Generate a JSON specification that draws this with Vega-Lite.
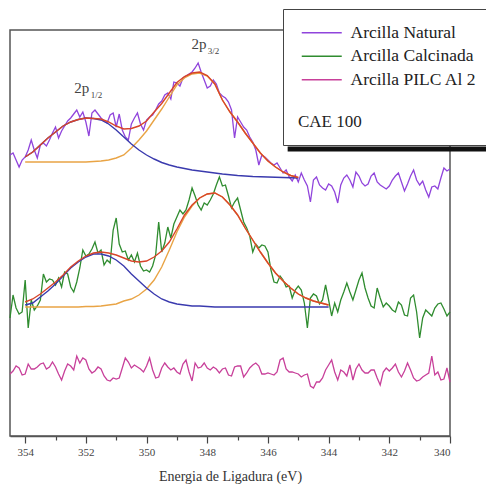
{
  "$schema": "https://vega.github.io/schema/vega-lite/v6.json",
  "width": 440,
  "height": 406,
  "padding": {"left": 10, "top": 30, "right": 36, "bottom": 48},
  "autosize": {"type": "none"},
  "background": "white",
  "config": {
    "view": {"stroke": "#555", "strokeWidth": 1.5},
    "axis": {"labelFont": "Liberation Serif", "labelFontSize": 11, "labelColor": "#444", "titleFont": "Liberation Serif", "titleFontSize": 14, "titleColor": "#333", "titleFontWeight": "normal", "domainColor": "#555", "domainWidth": 1.5, "tickColor": "#444", "tickWidth": 1.2, "grid": false}
  },
  "datasets": {
    "spec": [
      {"e":354.5,"n":281,"c":118,"p":62},{"e":354.4,"n":283,"c":141,"p":65},{"e":354.3,"n":276,"c":128,"p":70},{"e":354.2,"n":269,"c":122,"p":68},{"e":354.1,"n":276,"c":124,"p":61},
      {"e":354.0,"n":279,"c":156,"p":62},{"e":353.9,"n":286,"c":108,"p":72},{"e":353.8,"n":296,"c":136,"p":67},{"e":353.7,"n":286,"c":126,"p":67},{"e":353.6,"n":278,"c":130,"p":69},
      {"e":353.5,"n":291,"c":136,"p":72},{"e":353.4,"n":293,"c":162,"p":73},{"e":353.3,"n":290,"c":154,"p":67},{"e":353.2,"n":296,"c":157,"p":69},{"e":353.1,"n":303,"c":156,"p":74},
      {"e":353.0,"n":309,"c":151,"p":69},{"e":352.9,"n":298,"c":158,"p":62},{"e":352.8,"n":305,"c":149,"p":56},{"e":352.7,"n":310,"c":164,"p":65},{"e":352.6,"n":315,"c":162,"p":72},
      {"e":352.5,"n":318,"c":149,"p":70},{"e":352.4,"n":322,"c":144,"p":66},{"e":352.3,"n":326,"c":154,"p":80},{"e":352.2,"n":319,"c":168,"p":73},{"e":352.1,"n":324,"c":186,"p":78},
      {"e":352.0,"n":314,"c":180,"p":76},{"e":351.9,"n":300,"c":182,"p":67},{"e":351.8,"n":323,"c":187,"p":63},{"e":351.7,"n":326,"c":194,"p":65},{"e":351.6,"n":322,"c":183,"p":69},
      {"e":351.5,"n":318,"c":186,"p":67},{"e":351.4,"n":315,"c":171,"p":60},{"e":351.3,"n":313,"c":176,"p":56},{"e":351.2,"n":321,"c":173,"p":55},{"e":351.1,"n":323,"c":206,"p":58},
      {"e":351.0,"n":309,"c":218,"p":57},{"e":350.9,"n":322,"c":192,"p":58},{"e":350.8,"n":306,"c":184,"p":68},{"e":350.7,"n":299,"c":185,"p":78},{"e":350.6,"n":296,"c":176,"p":74},
      {"e":350.5,"n":312,"c":181,"p":68},{"e":350.4,"n":318,"c":174,"p":71},{"e":350.3,"n":323,"c":183,"p":69},{"e":350.2,"n":312,"c":170,"p":67},{"e":350.1,"n":306,"c":165,"p":64},
      {"e":350.0,"n":316,"c":166,"p":70},{"e":349.9,"n":319,"c":164,"p":78},{"e":349.8,"n":321,"c":170,"p":66},{"e":349.7,"n":326,"c":181,"p":58},{"e":349.6,"n":332,"c":214,"p":59},
      {"e":349.5,"n":335,"c":184,"p":68},{"e":349.4,"n":341,"c":193,"p":73},{"e":349.3,"n":343,"c":209,"p":69},{"e":349.2,"n":337,"c":198,"p":66},{"e":349.1,"n":354,"c":212,"p":68},
      {"e":349.0,"n":353,"c":219,"p":64},{"e":348.9,"n":350,"c":226,"p":62},{"e":348.8,"n":358,"c":222,"p":72},{"e":348.7,"n":360,"c":226,"p":76},{"e":348.6,"n":362,"c":236,"p":64},
      {"e":348.5,"n":364,"c":248,"p":55},{"e":348.4,"n":368,"c":240,"p":73},{"e":348.3,"n":373,"c":231,"p":68},{"e":348.2,"n":364,"c":226,"p":69},{"e":348.1,"n":356,"c":233,"p":73},
      {"e":348.0,"n":348,"c":231,"p":68},{"e":347.9,"n":350,"c":236,"p":66},{"e":347.8,"n":356,"c":242,"p":69},{"e":347.7,"n":352,"c":251,"p":67},{"e":347.6,"n":343,"c":259,"p":63},
      {"e":347.5,"n":340,"c":250,"p":67},{"e":347.4,"n":338,"c":251,"p":68},{"e":347.3,"n":334,"c":240,"p":61},{"e":347.2,"n":326,"c":228,"p":60},{"e":347.1,"n":298,"c":234,"p":69},
      {"e":347.0,"n":319,"c":238,"p":70},{"e":346.9,"n":314,"c":226,"p":70},{"e":346.8,"n":309,"c":214,"p":59},{"e":346.7,"n":306,"c":208,"p":63},{"e":346.6,"n":299,"c":200,"p":68},
      {"e":346.5,"n":294,"c":184,"p":71},{"e":346.4,"n":286,"c":192,"p":73},{"e":346.3,"n":271,"c":188,"p":70},{"e":346.2,"n":281,"c":191,"p":62},{"e":346.1,"n":279,"c":190,"p":62},
      {"e":346.0,"n":276,"c":184,"p":63},{"e":345.9,"n":273,"c":166,"p":62},{"e":345.8,"n":271,"c":154,"p":61},{"e":345.7,"n":273,"c":153,"p":64},{"e":345.6,"n":268,"c":160,"p":76},
      {"e":345.5,"n":263,"c":156,"p":78},{"e":345.4,"n":266,"c":149,"p":67},{"e":345.3,"n":259,"c":150,"p":64},{"e":345.2,"n":255,"c":138,"p":64},{"e":345.1,"n":261,"c":146,"p":63},
      {"e":345.0,"n":254,"c":150,"p":62},{"e":344.9,"n":263,"c":146,"p":59},{"e":344.8,"n":256,"c":133,"p":61},{"e":344.7,"n":250,"c":108,"p":62},{"e":344.6,"n":234,"c":138,"p":50},
      {"e":344.5,"n":256,"c":142,"p":48},{"e":344.4,"n":259,"c":140,"p":54},{"e":344.3,"n":251,"c":132,"p":54},{"e":344.2,"n":248,"c":136,"p":58},{"e":344.1,"n":246,"c":151,"p":66},
      {"e":344.0,"n":252,"c":136,"p":71},{"e":343.9,"n":250,"c":120,"p":76},{"e":343.8,"n":244,"c":133,"p":64},{"e":343.7,"n":233,"c":124,"p":56},{"e":343.6,"n":251,"c":136,"p":66},
      {"e":343.5,"n":258,"c":144,"p":64},{"e":343.4,"n":261,"c":153,"p":60},{"e":343.3,"n":256,"c":144,"p":71},{"e":343.2,"n":249,"c":136,"p":56},{"e":343.1,"n":264,"c":146,"p":67},
      {"e":343.0,"n":260,"c":156,"p":72},{"e":342.9,"n":253,"c":163,"p":66},{"e":342.8,"n":250,"c":148,"p":63},{"e":342.7,"n":252,"c":138,"p":63},{"e":342.6,"n":260,"c":130,"p":66},
      {"e":342.5,"n":263,"c":128,"p":66},{"e":342.4,"n":254,"c":148,"p":58},{"e":342.3,"n":251,"c":138,"p":51},{"e":342.2,"n":249,"c":129,"p":64},{"e":342.1,"n":247,"c":133,"p":68},
      {"e":342.0,"n":250,"c":130,"p":65},{"e":341.9,"n":256,"c":126,"p":68},{"e":341.8,"n":260,"c":124,"p":72},{"e":341.7,"n":263,"c":134,"p":64},{"e":341.6,"n":254,"c":131,"p":59},
      {"e":341.5,"n":245,"c":121,"p":65},{"e":341.4,"n":252,"c":120,"p":73},{"e":341.3,"n":260,"c":138,"p":66},{"e":341.2,"n":266,"c":141,"p":58},{"e":341.1,"n":256,"c":124,"p":55},
      {"e":341.0,"n":251,"c":98,"p":56},{"e":340.9,"n":255,"c":118,"p":59},{"e":340.8,"n":246,"c":126,"p":61},{"e":340.7,"n":239,"c":123,"p":63},{"e":340.6,"n":249,"c":120,"p":80},
      {"e":340.5,"n":250,"c":128,"p":61},{"e":340.4,"n":247,"c":132,"p":64},{"e":340.3,"n":258,"c":133,"p":56},{"e":340.2,"n":268,"c":127,"p":57},{"e":340.1,"n":265,"c":120,"p":68},
      {"e":340.0,"n":267,"c":124,"p":54}
    ],
    "fit1": [
      {"e":354.0,"b":279,"o":274,"r":279},{"e":353.75,"b":284,"o":274,"r":284},{"e":353.5,"b":291,"o":274,"r":291},{"e":353.25,"b":298,"o":274,"r":298},
      {"e":353.0,"b":304,"o":274,"r":304},{"e":352.75,"b":310,"o":274,"r":310},{"e":352.5,"b":314,"o":274,"r":314},{"e":352.25,"b":316.5,"o":274,"r":316.5},
      {"e":352.0,"b":318,"o":274,"r":318},{"e":351.75,"b":317.5,"o":274.5,"r":317.5},{"e":351.5,"b":316,"o":275,"r":317},{"e":351.25,"b":312,"o":276,"r":314},
      {"e":351.0,"b":306,"o":278,"r":310},{"e":350.75,"b":299,"o":281,"r":307},{"e":350.5,"b":292,"o":288,"r":307.5},{"e":350.25,"b":286,"o":296,"r":310},
      {"e":350.0,"b":281,"o":305,"r":315},{"e":349.75,"b":277,"o":316,"r":324},{"e":349.5,"b":273.5,"o":327,"r":332.5},{"e":349.25,"b":271,"o":339,"r":343},
      {"e":349.0,"b":269,"o":351,"r":353.5},{"e":348.75,"b":267.5,"o":358,"r":359.5},{"e":348.5,"b":266,"o":362,"r":363},{"e":348.25,"b":265,"o":363,"r":364},
      {"e":348.0,"b":264,"o":360,"r":360.5},{"e":347.75,"b":263,"o":352,"r":352},{"e":347.5,"b":262,"o":336,"r":336},{"e":347.25,"b":261.2,"o":324,"r":324},
      {"e":347.0,"b":260.5,"o":314,"r":314},{"e":346.75,"b":260,"o":303,"r":303},{"e":346.5,"b":259.5,"o":293,"r":293},{"e":346.25,"b":259.2,"o":283,"r":283},
      {"e":346.0,"b":259,"o":275,"r":275},{"e":345.75,"b":258.7,"o":269,"r":269},{"e":345.5,"b":258.5,"o":264,"r":264},{"e":345.25,"b":258.2,"o":260.5,"r":260.5},
      {"e":345.0,"b":258,"o":258.5,"r":258.5}
    ],
    "fit2": [
      {"e":354.0,"b":131,"o":129,"r":134},{"e":353.75,"b":133,"o":129,"r":137},{"e":353.5,"b":139,"o":129,"r":142},{"e":353.25,"b":145,"o":129,"r":148},
      {"e":353.0,"b":152,"o":129,"r":154},{"e":352.75,"b":160,"o":129,"r":161},{"e":352.5,"b":168,"o":129,"r":169},{"e":352.25,"b":174,"o":129,"r":175},
      {"e":352.0,"b":179,"o":129.5,"r":180},{"e":351.75,"b":182,"o":129.5,"r":183},{"e":351.5,"b":182,"o":130,"r":184},{"e":351.25,"b":180,"o":131,"r":183},
      {"e":351.0,"b":176,"o":132,"r":181},{"e":350.75,"b":170,"o":135,"r":178},{"e":350.5,"b":162,"o":137,"r":175},{"e":350.25,"b":155,"o":141,"r":174},
      {"e":350.0,"b":148,"o":147,"r":175},{"e":349.75,"b":142,"o":156,"r":179},{"e":349.5,"b":137,"o":169,"r":185},{"e":349.25,"b":134,"o":186,"r":194},
      {"e":349.0,"b":132,"o":204,"r":207},{"e":348.75,"b":131,"o":219,"r":221},{"e":348.5,"b":130,"o":230,"r":231},{"e":348.25,"b":130,"o":238,"r":238},
      {"e":348.0,"b":129.5,"o":242,"r":242},{"e":347.75,"b":129,"o":243,"r":243},{"e":347.5,"b":129,"o":239,"r":239},{"e":347.25,"b":129,"o":231,"r":231},
      {"e":347.0,"b":129,"o":221,"r":221},{"e":346.75,"b":129,"o":208,"r":208},{"e":346.5,"b":129,"o":196,"r":196},{"e":346.25,"b":129,"o":184,"r":184},
      {"e":346.0,"b":129,"o":173,"r":173},{"e":345.75,"b":129,"o":163,"r":163},{"e":345.5,"b":129,"o":155,"r":155},{"e":345.25,"b":129,"o":148,"r":148},
      {"e":345.0,"b":129,"o":142,"r":142},{"e":344.75,"b":129,"o":138,"r":138},{"e":344.5,"b":129,"o":135,"r":135},{"e":344.25,"b":129,"o":133,"r":133},
      {"e":344.0,"b":129,"o":131,"r":131}
    ],
    "labels": [
      {"t":"2p","e":348.52,"v":387,"sub":false},
      {"t":"3/2","e":347.98,"v":382,"sub":true},
      {"t":"2p","e":352.38,"v":343,"sub":false},
      {"t":"1/2","e":351.84,"v":338,"sub":true}
    ],
    "shade": [{"e":345.35,"v":287},{"e":338.4,"v":287}]
  },
  "encoding": {
    "x": {"field": "e", "type": "quantitative",
      "scale": {"domain": [340, 354.5], "reverse": true, "nice": false, "zero": false},
      "axis": {"title": "Energia de Ligadura (eV)", "values": [340,341,342,343,344,345,346,347,348,349,350,351,352,353,354],
        "labelExpr": "datum.value % 2 == 0 ? datum.label : ''",
        "tickSize": {"condition": {"test": "datum.value % 2 == 0", "value": 7}, "value": 4},
        "labelPadding": 3, "titlePadding": 12}}
  },
  "layer": [
    {
      "data": {"name": "shade"},
      "mark": {"type": "line", "color": "#111", "strokeWidth": 5, "strokeCap": "butt", "clip": false},
      "encoding": {"y": {"field": "v", "type": "quantitative", "scale": {"domain": [0, 406], "nice": false, "zero": false}, "axis": null}}
    },
    {
      "data": {"name": "spec"},
      "transform": [{"fold": ["n", "c", "p"], "as": ["s", "v"]}],
      "mark": {"type": "line", "strokeWidth": 1.3},
      "encoding": {
        "y": {"field": "v", "type": "quantitative"},
        "color": {"field": "s", "type": "nominal",
          "scale": {"domain": ["n", "c", "p"], "range": ["#9044dc", "#2f8c2f", "#c8409a"]},
          "legend": {"orient": "none", "legendX": 273, "legendY": -21, "direction": "vertical",
            "title": "CAE 100", "titleOrient": "bottom", "titleAnchor": "start", "titlePadding": 26,
            "titleFont": "Liberation Serif", "titleFontSize": 17, "titleFontWeight": "normal", "titleColor": "#222",
            "labelExpr": "datum.label == 'n' ? 'Arcilla Natural' : datum.label == 'c' ? 'Arcilla Calcinada' : 'Arcilla PILC Al 2'",
            "labelFont": "Liberation Serif", "labelFontSize": 17.5, "labelColor": "#222", "labelLimit": 300, "labelOffset": 35,
            "symbolType": "M-2,0H14", "symbolSize": 25, "symbolStrokeWidth": 1.6,
            "rowPadding": 4.5, "padding": 15, "strokeColor": "#444", "fillColor": "white", "cornerRadius": 0}}
      }
    },
    {
      "data": {"name": "fit1"},
      "mark": {"type": "line", "color": "#e9a445", "strokeWidth": 1.4},
      "encoding": {"y": {"field": "o", "type": "quantitative"}}
    },
    {
      "data": {"name": "fit1"},
      "mark": {"type": "line", "color": "#3a3aae", "strokeWidth": 1.4},
      "encoding": {"y": {"field": "b", "type": "quantitative"}}
    },
    {
      "data": {"name": "fit1"},
      "mark": {"type": "line", "color": "#d8452a", "strokeWidth": 1.4},
      "encoding": {"y": {"field": "r", "type": "quantitative"}}
    },
    {
      "data": {"name": "fit2"},
      "mark": {"type": "line", "color": "#e9a445", "strokeWidth": 1.4},
      "encoding": {"y": {"field": "o", "type": "quantitative"}}
    },
    {
      "data": {"name": "fit2"},
      "mark": {"type": "line", "color": "#3a3aae", "strokeWidth": 1.4},
      "encoding": {"y": {"field": "b", "type": "quantitative"}}
    },
    {
      "data": {"name": "fit2"},
      "mark": {"type": "line", "color": "#d8452a", "strokeWidth": 1.4},
      "encoding": {"y": {"field": "r", "type": "quantitative"}}
    },
    {
      "data": {"name": "labels"},
      "mark": {"type": "text", "font": "Liberation Serif", "color": "#444", "align": "left", "baseline": "alphabetic"},
      "encoding": {
        "y": {"field": "v", "type": "quantitative"},
        "text": {"field": "t"},
        "size": {"condition": {"test": "datum.sub", "value": 9}, "value": 15}
      }
    }
  ]
}
